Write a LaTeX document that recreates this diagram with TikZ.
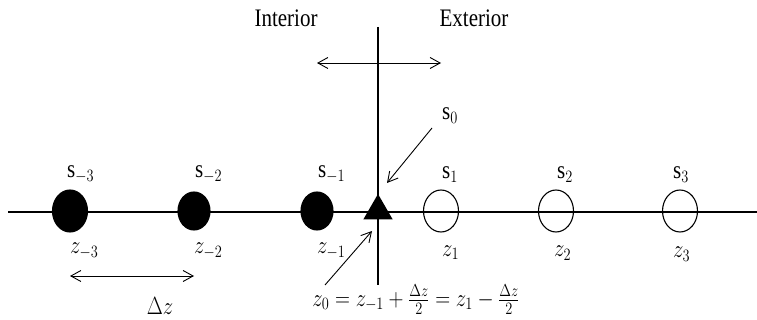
\documentclass[tikz,border=0pt]{standalone}
\usepackage{graphicx}
\usepackage{fontspec}
\setmainfont{Liberation Serif}
\usetikzlibrary{arrows.meta,shapes.geometric,positioning}

\newcommand{\tall}[1]{\scalebox{1}[1.2]{#1}}

\tikzset{
  ax/.style     ={line width=1.1pt},
  arr/.style    ={-{Straight Barb[length=10pt,width=11pt]}, line width=0.9pt},
  arrs/.style   ={{Straight Barb[length=10pt,width=11pt]}-{Straight Barb[length=10pt,width=11pt]}, line width=0.9pt},
  site/.style   ={ellipse, draw, line width=1.1pt, minimum width=35pt, minimum height=42pt, inner sep=0pt},
  insite/.style ={site, fill=black},
  outsite/.style={site},
  wall/.style   ={regular polygon, regular polygon sides=3, fill=black, minimum size=34pt, inner sep=0pt},
  lbl/.style    ={font=\fontsize{21}{24}\selectfont, inner sep=0pt}
}

\begin{document}
\begin{tikzpicture}[x=1pt, y=-1pt]
  \useasboundingbox (0,0) rectangle (757,320);

  % axis and wall
  \coordinate (axl) at (8,212);
  \coordinate (axr) at (757,212);
  \coordinate (wtop) at (378,27);
  \coordinate (wbot) at (378,285);
  \draw[ax] (axl) -- (axr);
  \draw[ax] (wtop) -- (wbot);

  % sites
  \node[insite] (em3) at (70,211) {};
  \node[insite, minimum width=32pt, minimum height=38pt] (em2) at (194,211) {};
  \node[insite, minimum width=32pt, minimum height=38pt] (em1) at (317,211) {};
  \node[wall] (tri) at (378,211) {};
  \node[outsite] (ep1) at (441,211) {};
  \node[outsite] (ep2) at (556,211) {};
  \node[outsite] (ep3) at (680,211) {};

  % site labels
  \node[lbl, anchor=base west] (lsm3) at ([shift={(-3pt,33pt)}]em3.center) {\tall{$\mathrm{s}_{-3}$}};
  \node[lbl, anchor=base west] (lsm2) at ([shift={(1pt,33pt)}]em2.center) {\tall{$\mathrm{s}_{-2}$}};
  \node[lbl, anchor=base west] (lsm1) at ([shift={(1pt,33pt)}]em1.center) {\tall{$\mathrm{s}_{-1}$}};
  \node[lbl, anchor=base west] (lsp1) at ([shift={(1pt,32pt)}]ep1.center) {\tall{$\mathrm{s}_{1}$}};
  \node[lbl, anchor=base west] (lsp2) at ([shift={(1pt,32pt)}]ep2.center) {\tall{$\mathrm{s}_{2}$}};
  \node[lbl, anchor=base west] (lsp3) at ([shift={(-7pt,32pt)}]ep3.center) {\tall{$\mathrm{s}_{3}$}};
  \node[lbl, anchor=base west] (ls0) at (442,120) {\tall{$\mathrm{s}_{0}$}};

  \node[lbl, anchor=base west] (lzm3) at ([shift={(0pt,-43pt)}]em3.center) {\tall{$z_{-3}$}};
  \node[lbl, anchor=base west] (lzm2) at ([shift={(0pt,-43pt)}]em2.center) {\tall{$z_{-2}$}};
  \node[lbl, anchor=base west] (lzm1) at ([shift={(0pt,-43pt)}]em1.center) {\tall{$z_{-1}$}};
  \node[lbl, anchor=base west] (lzp1) at ([shift={(1pt,-45pt)}]ep1.center) {\tall{$z_{1}$}};
  \node[lbl, anchor=base west] (lzp2) at ([shift={(-2pt,-46pt)}]ep2.center) {\tall{$z_{2}$}};
  \node[lbl, anchor=base west] (lzp3) at ([shift={(-7pt,-47pt)}]ep3.center) {\tall{$z_{3}$}};

  % side labels
  \node[lbl, anchor=base] (int) at (286,27) {\tall{Interior}};
  \node[lbl, anchor=base] (ext) at (474,27) {\tall{Exterior}};
  \coordinate (sidel) at (317,63);
  \coordinate (sider) at (441,63);
  \draw[arrs] (sidel) -- (sider);

  % pointers to the wall
  \coordinate (s0tail) at (432,128);
  \coordinate (s0head) at (387,183);
  \draw[arr] (s0tail) -- (s0head);
  \coordinate (z0tail) at (325,285);
  \coordinate (z0head) at (372,231);
  \draw[arr] (z0tail) -- (z0head);

  % spacing
  \draw[arrs] ([yshift=-65pt]em3.center) -- ([yshift=-65pt]em2.center);
  \node[lbl, anchor=base] (dz) at (160,314) {\tall{$\Delta z$}};

  \node[lbl, anchor=base] (form) at (416,306)
    {\tall{$z_0 = z_{-1} + \frac{\Delta z}{2} = z_1 - \frac{\Delta z}{2}$}};
\end{tikzpicture}
\end{document}
